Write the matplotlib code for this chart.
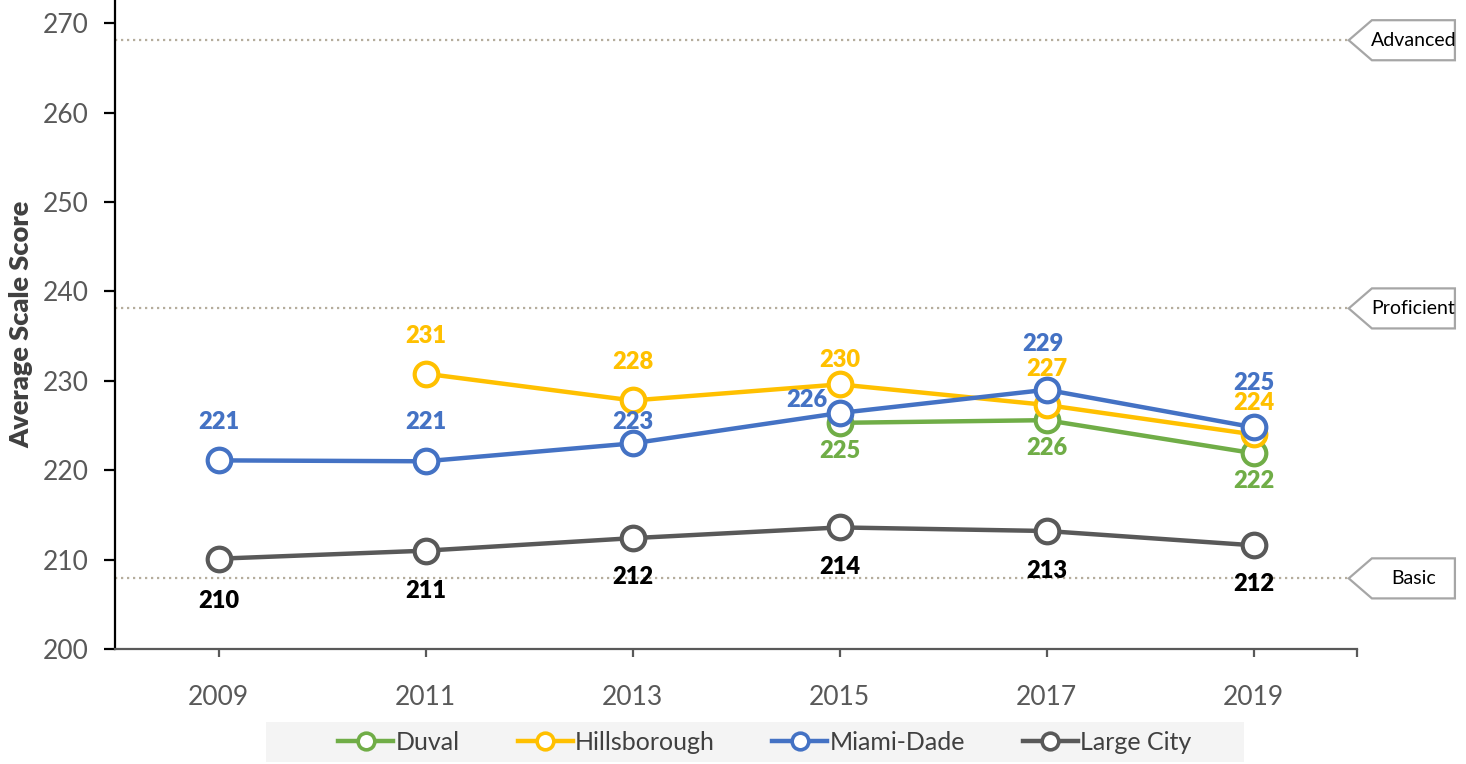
import matplotlib
matplotlib.use("Agg")
import matplotlib.pyplot as plt
from matplotlib.patches import Polygon, Rectangle
from matplotlib.lines import Line2D
import numpy as np

plt.rcParams['font.family'] = ['Lato', 'DejaVu Sans']

years = ["2009", "2011", "2013", "2015", "2017", "2019"]
duval = [None, None, None, 225.3, 225.6, 221.9]
hillsborough = [None, 230.8, 227.8, 229.6, 227.3, 224.0]
miami_dade = [221.1, 221.0, 223.0, 226.4, 229.0, 224.8]
large_city = [210.1, 211.0, 212.4, 213.6, 213.2, 211.6]
levels = ["Basic", "Proficient", "Advanced"]
level_values = [207.9, 238.1, 268.1]

series = [
    ("Duval", duval, "#70ad47", "#70ad47"),
    ("Hillsborough", hillsborough, "#ffc000", "#ffc000"),
    ("Miami-Dade", miami_dade, "#4472c4", "#4472c4"),
    ("Large City", large_city, "#595959", "#000000"),
]

# label offsets in pixels (layout only)
label_offsets = {
    "Duval": [None, None, None, (0, -28), (0, -28), (0, -28)],
    "Hillsborough": [None, (0, 38), (0, 38), (0, 24), (0, 36), (0, 31)],
    "Miami-Dade": [(0, 38), (0, 39), (0, 21), (-33, 13), (-4, 46), (0, 44)],
    "Large City": [(0, -42), (0, -40), (0, -39), (0, -40), (0, -40), (0, -39)],
}

W, H = 1466, 764
fig = plt.figure(figsize=(W / 100, H / 100), dpi=100)
ax = fig.add_axes([115 / W, 1 - 649 / H, (1357 - 115) / W, 649 / H])

x = np.arange(len(years))
ax.set_xlim(-0.5, len(years) - 0.5)
ax.set_ylim(200, 272.6)

# reference level lines
for name, v in zip(levels, level_values):
    ax.plot([-0.5, 5.46], [v, v], color="#b5ad9c", lw=1.6,
            linestyle=(0, (1, 1.7)), zorder=1, clip_on=False)
    poly = Polygon([[5.46, v], [5.572, v + 2.24], [5.973, v + 2.24],
                    [5.973, v - 2.24], [5.572, v - 2.24]],
                   closed=True, facecolor="white", edgecolor="#a6a6a6",
                   lw=1.6, clip_on=False, zorder=5)
    ax.add_patch(poly)
    ax.text(5.772, v, name, ha="center", va="center", fontsize=14,
            color="black", zorder=6, clip_on=False)

handles = []
for i, (name, vals, col, lcol) in enumerate(series):
    xs = [xi for xi, v in zip(x, vals) if v is not None]
    ys = [v for v in vals if v is not None]
    h, = ax.plot(xs, ys, color=col, lw=3.2, marker="o", markersize=17,
                 markerfacecolor="white", markeredgecolor=col,
                 markeredgewidth=3.0, zorder=10 + i, clip_on=False)
    handles.append(h)
    for xi, v, off in zip(x, vals, label_offsets[name]):
        if v is None:
            continue
        ax.annotate(f"{v:.0f}", (xi, v), xytext=off,
                    textcoords="offset pixels", ha="center", va="center",
                    fontsize=17, fontweight="heavy", color=lcol, zorder=20)

# axes styling
for s in ["top", "right"]:
    ax.spines[s].set_visible(False)
ax.spines["left"].set_color("black")
ax.spines["left"].set_linewidth(1.6)
ax.spines["bottom"].set_color("#595959")
ax.spines["bottom"].set_linewidth(1.6)

ax.set_yticks(np.arange(200, 271, 10))
ax.tick_params(axis="y", direction="out", length=8, width=1.6,
               color="black", labelsize=19, labelcolor="#595959", pad=11)
ax.set_xticks(x)
ax.set_xticklabels(years)
ax.set_xticks([5.5], minor=True)
ax.tick_params(axis="x", which="both", direction="out", length=6, width=1.6,
               color="#595959", labelsize=19, labelcolor="#595959", pad=20)

ax.set_ylabel("Average Scale Score", fontsize=19.5, fontweight="heavy",
              color="#404040")
ax.yaxis.set_label_coords(-82 / 1242, 0.5)

# legend
fig.patches.append(Rectangle((266 / W, 2 / H), (1244 - 266) / W, 40 / H,
                             transform=fig.transFigure, facecolor="#f4f4f4",
                             edgecolor="none", zorder=0))
leg_handles = [Line2D([], [], color=c, lw=3.2, marker="o", markersize=12,
                      markerfacecolor="white", markeredgecolor=c,
                      markeredgewidth=2.6) for _, _, c, _ in series]
fig.legend(leg_handles, [s[0] for s in series], loc="center",
           bbox_to_anchor=(765 / W, 1 - 742 / H), ncol=4, frameon=False,
           fontsize=18, handlelength=2.2, handletextpad=0.1,
           columnspacing=2.3, labelcolor="#404040")

fig.savefig("out.png", dpi=100)
